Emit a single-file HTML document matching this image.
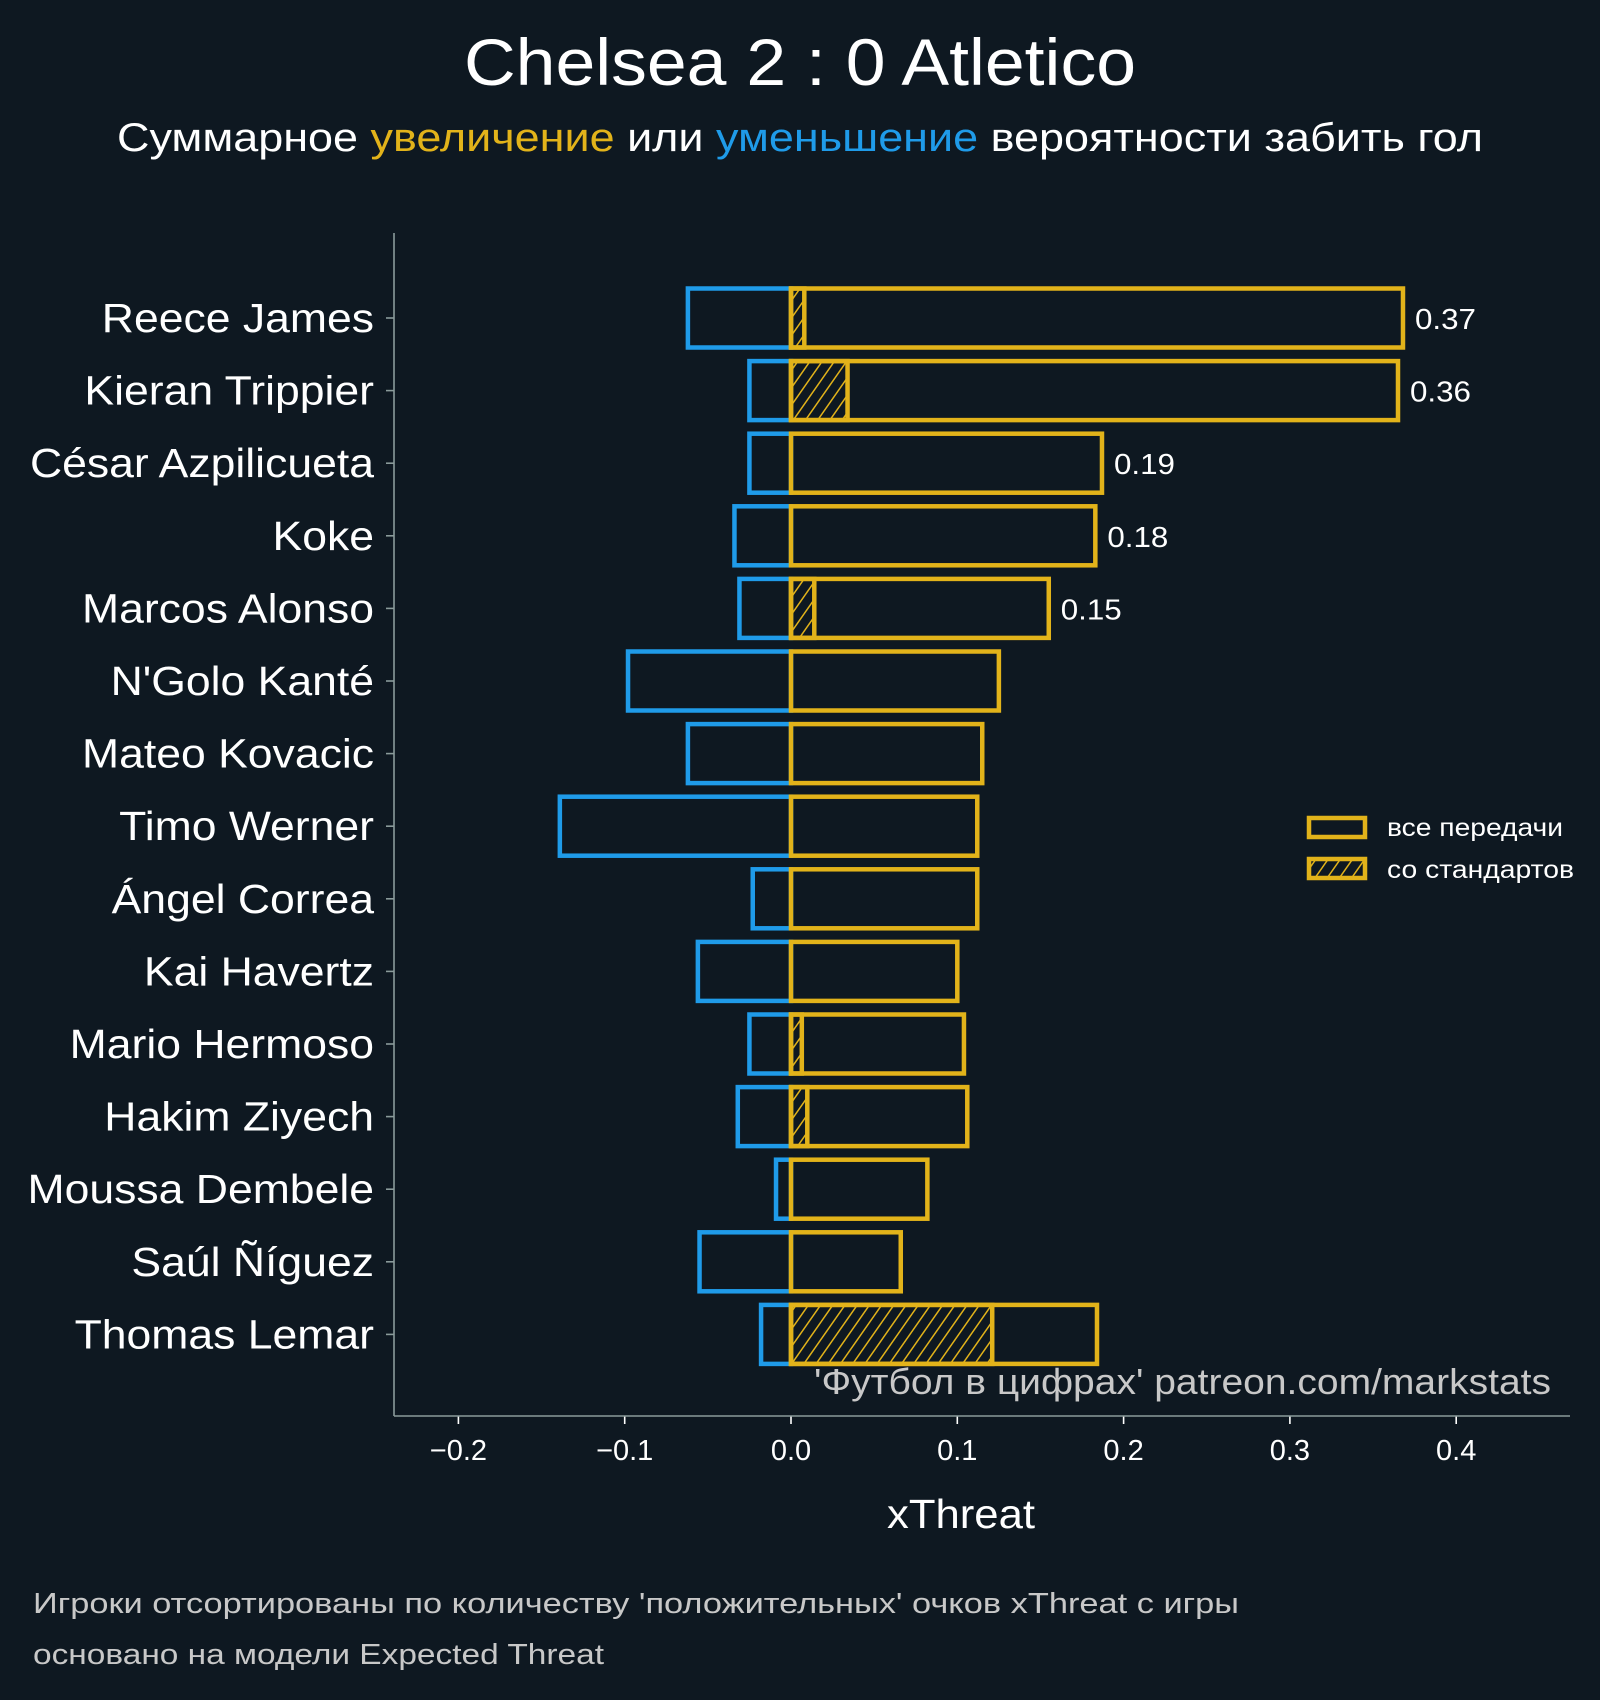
<!DOCTYPE html>
<html><head><meta charset="utf-8">
<style>
html,body{margin:0;padding:0;background:#0e1821;}
svg{display:block;font-family:"Liberation Sans","DejaVu Sans",sans-serif;}
</style></head>
<body>
<svg id="chart" width="1600" height="1700" viewBox="0 0 1600 1700" xmlns="http://www.w3.org/2000/svg">
<defs>
<pattern id="hatch" patternUnits="userSpaceOnUse" width="10" height="10" patternTransform="rotate(35)">
<line x1="0" y1="0" x2="0" y2="10" stroke="#e2b31a" stroke-width="3"/>
</pattern>
</defs>
<rect width="1600" height="1700" fill="#0e1821"/>
<text x="800" y="85" text-anchor="middle" font-size="66" fill="#ffffff" textLength="672" lengthAdjust="spacingAndGlyphs">Chelsea 2 : 0 Atletico</text>
<text x="800" y="151" text-anchor="middle" font-size="40" fill="#ffffff" textLength="1366" lengthAdjust="spacingAndGlyphs">Суммарное <tspan fill="#e2b31a">увеличение</tspan> или <tspan fill="#1f9be9">уменьшение</tspan> вероятности забить гол</text>
<g id="plot"></g>
<line x1="394" y1="233" x2="394" y2="1416" stroke="#8a9a9a" stroke-width="1.6"/>
<line x1="394" y1="1416" x2="1570" y2="1416" stroke="#8a9a9a" stroke-width="1.6"/>
<text x="1551" y="1394" text-anchor="end" font-size="36" fill="#c8c8c8" textLength="737" lengthAdjust="spacingAndGlyphs">'Футбол в цифрах' patreon.com/markstats</text>
<text x="961" y="1528" text-anchor="middle" font-size="41" fill="#ffffff" textLength="148" lengthAdjust="spacingAndGlyphs">xThreat</text>
<g>
<rect x="1309" y="818" width="56" height="19" fill="none" stroke="#e2b31a" stroke-width="4.5"/>
<text x="1387" y="836" font-size="25" fill="#ffffff" textLength="176" lengthAdjust="spacingAndGlyphs">все передачи</text>
<rect x="1309" y="859" width="56" height="19" fill="url(#hatch)" stroke="#e2b31a" stroke-width="4.5"/>
<text x="1387" y="878" font-size="25" fill="#ffffff" textLength="187" lengthAdjust="spacingAndGlyphs">со стандартов</text>
</g>
<text x="33" y="1613" font-size="29" fill="#c8c8c8" textLength="1206" lengthAdjust="spacingAndGlyphs">Игроки отсортированы по количеству 'положительных' очков xThreat с игры</text>
<text x="33" y="1664" font-size="29" fill="#c8c8c8" textLength="571" lengthAdjust="spacingAndGlyphs">основано на модели Expected Threat</text>
</svg>
<script>
const players = ["Reece James","Kieran Trippier","César Azpilicueta","Koke","Marcos Alonso","N'Golo Kanté","Mateo Kovacic","Timo Werner","Ángel Correa","Kai Havertz","Mario Hermoso","Hakim Ziyech","Moussa Dembele","Saúl Ñíguez","Thomas Lemar"];
const positiveValues = [0.368,0.365,0.187,0.183,0.155,0.125,0.115,0.112,0.112,0.100,0.104,0.106,0.082,0.066,0.184];
const negativeValues = [-0.062,-0.025,-0.025,-0.034,-0.031,-0.098,-0.062,-0.139,-0.023,-0.056,-0.025,-0.032,-0.009,-0.055,-0.018];
const setPieceValues = [0.008,0.034,0,0,0.014,0,0,0,0,0,0.0065,0.0098,0,0,0.121];
const valueLabels = ["0.37","0.36","0.19","0.18","0.15","","","","","","","","","",""];
const xTicks = [-0.2,-0.1,0.0,0.1,0.2,0.3,0.4];
const xTickLabels = ["−0.2","−0.1","0.0","0.1","0.2","0.3","0.4"];

const NS="http://www.w3.org/2000/svg";
const plot=document.getElementById('plot');
const x=v=>791+v*1663;
const y=i=>318+i*72.6;
const BH=59;
function mk(tag,attrs,parent){const e=document.createElementNS(NS,tag);for(const k in attrs)e.setAttribute(k,attrs[k]);(parent||plot).appendChild(e);return e;}
function widen(t,f){const w=t.getComputedTextLength();t.setAttribute('textLength',(w*f).toFixed(1));t.setAttribute('lengthAdjust','spacingAndGlyphs');}

players.forEach((p,i)=>{
  const cy=y(i);
  const n=mk('rect',{x:x(negativeValues[i]),y:cy-BH/2,width:x(0)-x(negativeValues[i]),height:BH,fill:'none',stroke:'#1f9be9','stroke-width':4.5});
  
  
  if(setPieceValues[i]>0){
    const s=mk('rect',{x:x(0),y:cy-BH/2,width:x(setPieceValues[i])-x(0),height:BH,fill:'url(#hatch)',stroke:'#e2b31a','stroke-width':4.5});
    
    
  }
  const b=mk('rect',{x:x(0),y:cy-BH/2,width:x(positiveValues[i])-x(0),height:BH,fill:'none',stroke:'#e2b31a','stroke-width':4.5});
  
  
  if(valueLabels[i]){
    const t=mk('text',{x:x(positiveValues[i])+12,y:cy+11,'font-size':29,fill:'#ffffff'});
    t.textContent=valueLabels[i];
    
    
    widen(t,1.08);
  }
  const tk=mk('line',{x1:386,y1:cy,x2:394,y2:cy,stroke:'#8a9a9a','stroke-width':1.6});
  
  
  const l=mk('text',{x:374,y:cy+14,'text-anchor':'end','font-size':41,fill:'#ffffff'});
  l.textContent=p;
  
  
  widen(l,1.086);
});
xTicks.forEach((v,i)=>{
  const tk=mk('line',{x1:x(v),y1:1416,x2:x(v),y2:1424,stroke:'#ffffff','stroke-width':1.6});
  
  
  const t=mk('text',{x:x(v),y:1460,'text-anchor':'middle','font-size':29,fill:'#ffffff'});
  t.textContent=xTickLabels[i];
  
  
});
</script>
</body></html>
